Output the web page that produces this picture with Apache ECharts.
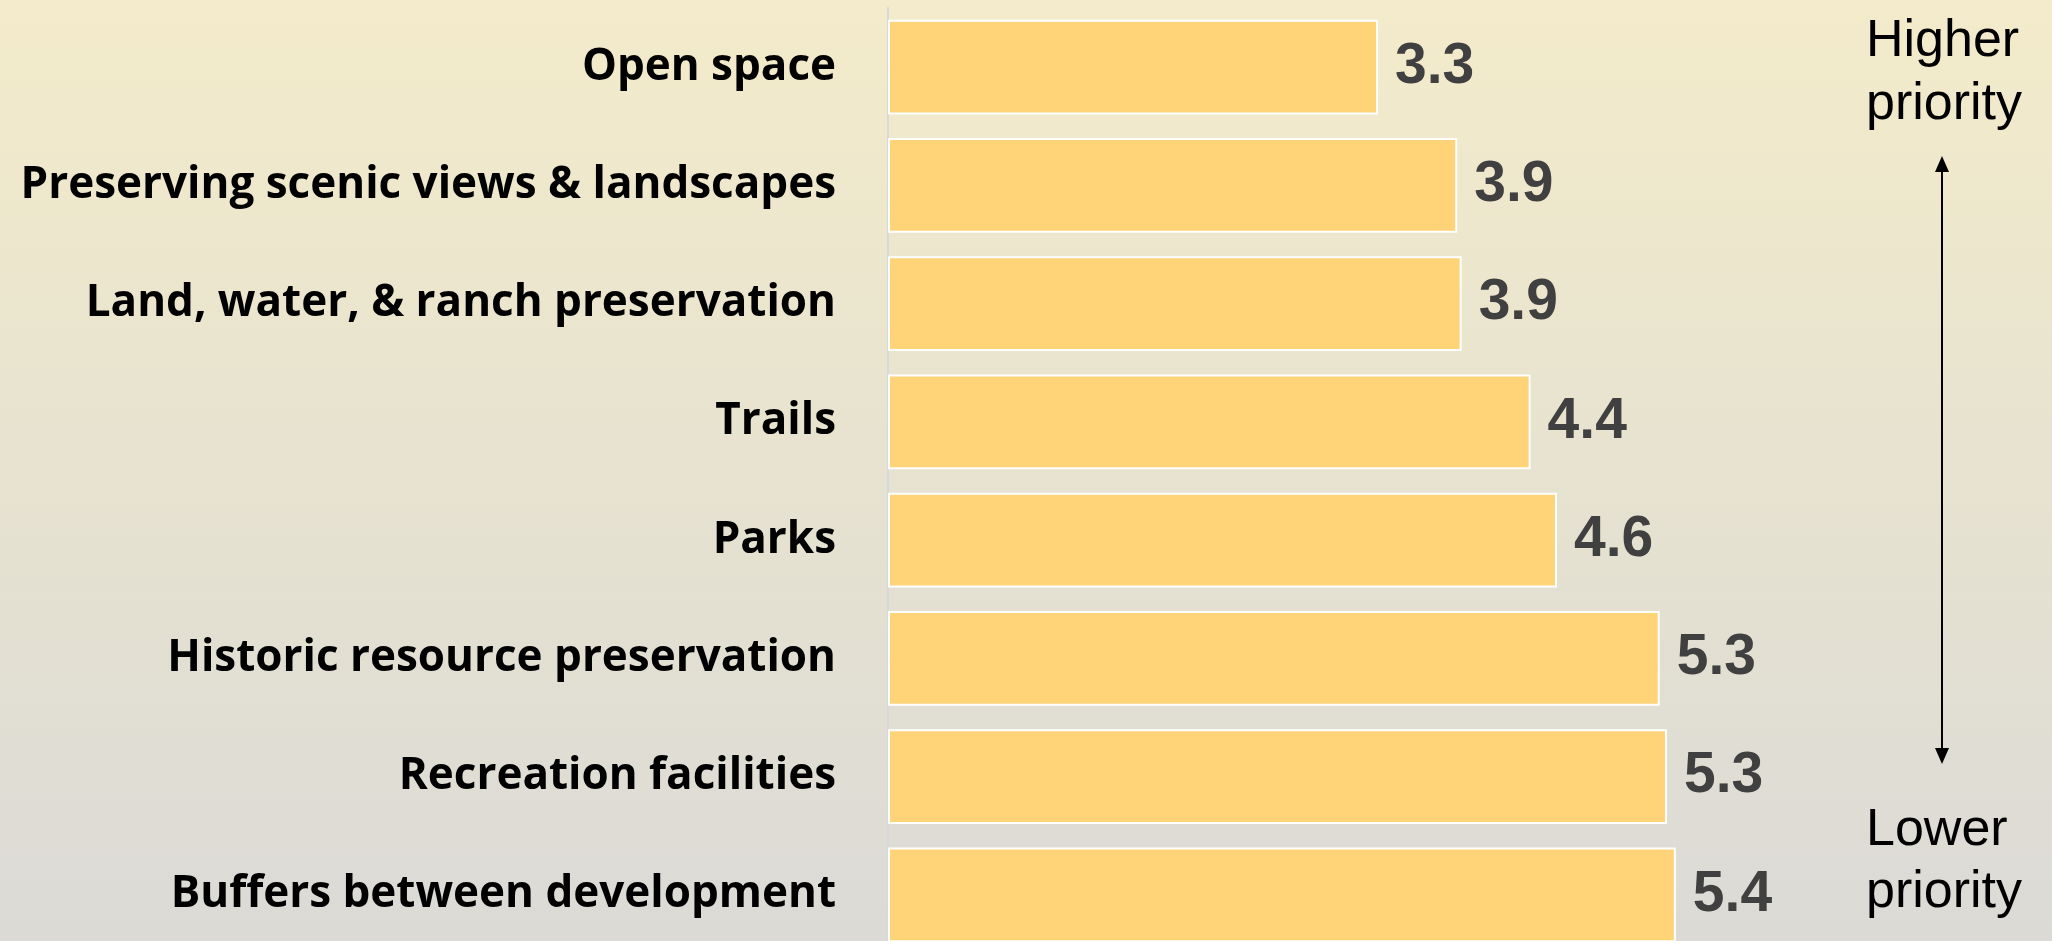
<!DOCTYPE html>
<html>
<head>
<meta charset="utf-8">
<script src="https://cdn.jsdelivr.net/npm/echarts@6/dist/echarts.min.js"></script>
<style>
    html, body { margin: 0; padding: 0; }
    #priorityChart { width: 2052px; height: 941px; }
</style>
</head>
<body>
<div id="priorityChart"></div>
<script>
// categories top to bottom, average rank (lower = higher priority)
const categories = [
    'Open space',
    'Preserving scenic views & landscapes',
    'Land, water, & ranch preservation',
    'Trails',
    'Parks',
    'Historic resource preservation',
    'Recreation facilities',
    'Buffers between development'
]
const avgRank = [3.34, 3.88, 3.91, 4.38, 4.56, 5.26, 5.31, 5.37]

setPriorityChart()

function setPriorityChart() {
    const myChart = echarts.init(document.getElementById('priorityChart'))

    const option = {
        animation: false,
        backgroundColor: new echarts.graphic.LinearGradient(0, 0, 0, 1, [
            { offset: 0, color: '#f3ebca' },
            { offset: 1, color: '#dbdad6' }
        ]),
        grid: {
            left: 888,
            top: 8,
            width: 1027,
            height: 946,
            containLabel: false,
            outerBoundsMode: 'none'
        },
        xAxis: {
            type: 'value',
            min: 0,
            max: 7,
            show: false
        },
        yAxis: {
            type: 'category',
            inverse: true,
            data: categories,
            axisLine: {
                lineStyle: { color: '#d6d8dc', width: 2 }
            },
            axisTick: {
                length: 16,
                lineStyle: { color: '#d6d8dc', width: 2 }
            },
            axisLabel: {
                margin: 52,
                color: '#000',
                fontFamily: '"Open Sans"',
                fontWeight: 'bold',
                fontSize: 44
            }
        },
        series: [{
            type: 'bar',
            data: avgRank,
            barCategoryGap: '20%',
            itemStyle: {
                color: '#ffd378',
                borderColor: '#ffffff',
                borderWidth: 2
            },
            label: {
                show: true,
                position: 'right',
                distance: 17,
                color: '#404040',
                fontFamily: 'Liberation Sans',
                fontWeight: 'bold',
                fontSize: 57,
                formatter: function (p) {
                    return p.value.toFixed(1)
                }
            }
        }],
        graphic: [{
            type: 'text',
            left: 1866,
            top: 10,
            style: {
                text: 'Higher\npriority',
                fill: '#000',
                font: '52px "Liberation Sans"',
                align: 'center',
                lineHeight: 63
            }
        }, {
            type: 'text',
            left: 1866,
            top: 800,
            style: {
                text: 'Lower\npriority',
                fill: '#000',
                font: '52px "Liberation Sans"',
                align: 'center',
                lineHeight: 62
            }
        }, {
            type: 'line',
            shape: { x1: 1942, y1: 168, x2: 1942, y2: 752 },
            style: { stroke: '#000', lineWidth: 2 }
        }, {
            type: 'polygon',
            shape: { points: [[1942, 156], [1935, 172], [1949, 172]] },
            style: { fill: '#000' }
        }, {
            type: 'polygon',
            shape: { points: [[1942, 764], [1935, 748], [1949, 748]] },
            style: { fill: '#000' }
        }]
    }
    myChart.setOption(option)
}
</script>
</body>
</html>
